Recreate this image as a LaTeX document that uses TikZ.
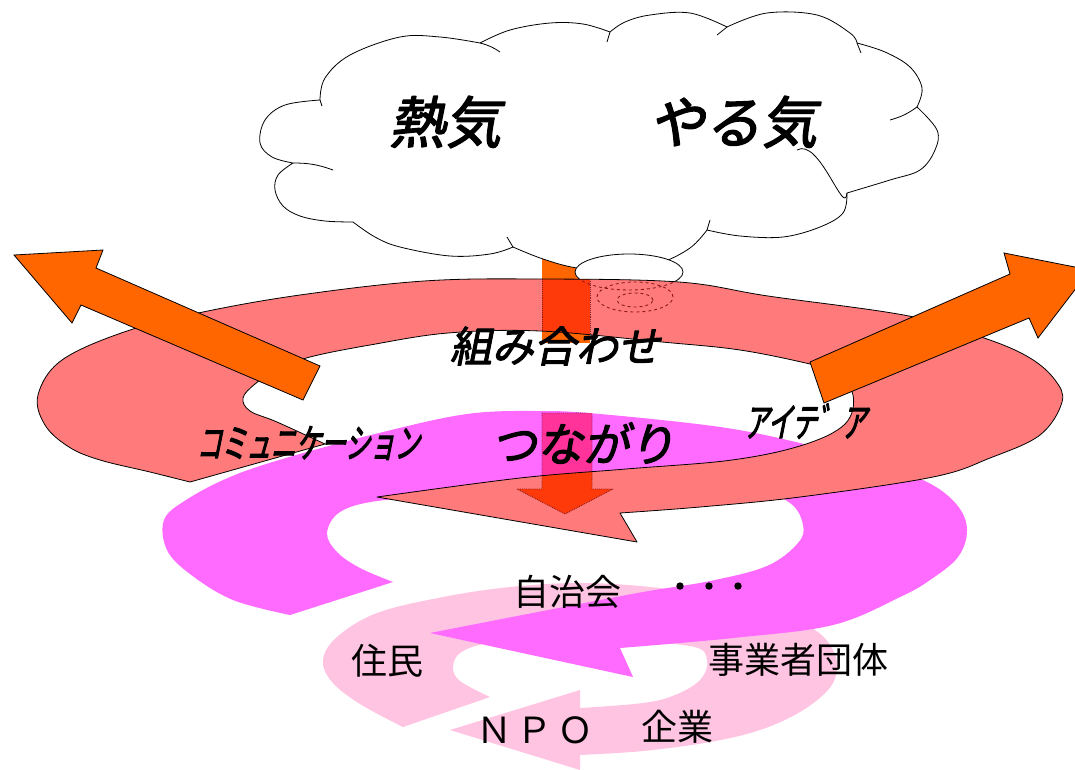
\documentclass[tikz,border=0pt]{standalone}
\usepackage{fontspec}
\newfontfamily\jpi{Noto Sans CJK JP}[FakeSlant=0.2,FakeBold=2.5]
\newfontfamily\jpic{Noto Sans CJK JP}[FakeSlant=0.2,FakeBold=2.5,FakeStretch=0.62]
\newfontfamily\jpr{Noto Sans CJK JP}
\newfontfamily\jprb{Noto Sans CJK JP}[FakeBold=4]
\definecolor{orng}{HTML}{FF6600}
\definecolor{redband}{HTML}{FF7B7B}
\definecolor{magband}{HTML}{FF6BFF}
\definecolor{pinkband}{HTML}{FFC4E2}
\definecolor{redover}{HTML}{FF3A0A}
\definecolor{magover}{HTML}{FF3399}
\definecolor{dotline}{HTML}{8C1A1A}

% outline paths of the three spiral bands and the overlapping shapes
\def\pathRed{(325,444) -- (190,482) -- plot[smooth,tension=0.6] coordinates {(190,482) (150,472) (100,460) (69,447) (45,425) (38,395) (62,360) (127,331) (203,312) (300,295) (424,281) (540,279) (679,282) (768,296) (909,316) (987,339) (1030,358) (1055,380) (1062,402) (1040,435) (990,458) (933,477) (800,497) (700,507) (620,513)} -- (637,542) -- (377,497) -- plot[smooth,tension=0.6] coordinates {(377,497) (520,478) (626,469) (732,460) (803,445) (845,424) (853,395) (835,372) (810,364) (740,350) (662,342) (540,331) (448,333) (370,345) (310,357) (278,369) (255,384) (243,398) (250,411) (277,422) (325,444)} -- cycle}
\def\pathMag{(393,582) -- (290,615) -- plot[smooth,tension=0.6] coordinates {(290,615) (233,600) (190,574) (167,550) (164,520) (186,500) (230,477) (286,458) (379,433) (467,414) (540,411) (600,414) (720,427) (800,443) (870,462) (927,482) (957,505) (967,530) (958,557) (930,580) (900,597) (833,625) (733,638) (620,648)} -- (633,677) -- (430,633) -- plot[smooth,tension=0.6] coordinates {(430,633) (543,611) (643,592) (710,581) (767,566) (798,543) (803,525) (790,503) (750,488) (650,482) (550,489) (450,496) (377,501) (340,512) (327,533) (337,552) (360,568) (393,582)} -- cycle}
\def\pathPink{(490,697) -- (403,727) -- plot[smooth,tension=0.6] coordinates {(403,727) (360,704) (332,682) (323,660) (337,637) (377,613) (443,597) (510,587) (577,583) (640,586) (700,594) (770,608) (815,630) (833,650) (837,670) (828,690) (800,712) (760,730) (710,742) (643,751) (580,755)} -- (580,770) -- (450,730) -- (580,690) -- plot[smooth,tension=0.6] coordinates {(580,708) (643,703) (675,695) (700,680) (707,660) (690,646) (600,640) (520,640) (483,644) (460,653) (453,667) (460,681) (490,697)} -- cycle}
\def\pathDown{(542,413) -- (592,413) -- (592,489) -- (613,489) -- (565,514) -- (517,489) -- (542,489) -- cycle}
\def\pathRect{(542,230) rectangle (590,343)}

\tikzset{
  outline/.style={draw=black,line width=0.8pt},
  bigarrow/.style={fill=orng,draw=black,line width=0.8pt,line join=miter},
  hidden/.style={draw=dotline,line width=0.9pt,densely dotted},
  slanted/.style={font=\jpi\fontsize{#1}{#1}\selectfont,inner sep=0pt},
  condensed/.style={font=\jpic\fontsize{#1}{#1}\selectfont,inner sep=0pt},
  plain/.style={font=\jpr\fontsize{#1}{#1}\selectfont,inner sep=0pt}
}

\begin{document}
\begin{tikzpicture}[x=1pt,y=-1pt,line join=round]
\useasboundingbox[fill=white] (0,0) rectangle (1075,769);

% orange block below the cloud
\fill[orng] \pathRect;

% thought cloud
\draw[outline,fill=white]
  plot[smooth,tension=0.6] coordinates {(293,163) (278,175) (275,190) (283,206) (300,216) (325,221) (353,222)}
  -- plot[smooth,tension=0.6] coordinates {(353,222) (375,237) (400,247) (450,256) (490,254) (513,247)}
  -- plot[smooth,tension=0.6] coordinates {(513,247) (543,259) (577,268) (620,271) (660,263) (690,248) (707,230)}
  -- plot[smooth,tension=0.6] coordinates {(707,230) (740,236) (783,237) (820,227) (843,213) (847,193)}
  -- plot[smooth,tension=0.6] coordinates {(847,193) (890,180) (920,170) (935,150) (937,130) (917,107)}
  -- plot[smooth,tension=0.6] coordinates {(917,107) (922,88) (910,67) (885,52) (857,43)}
  -- plot[smooth,tension=0.6] coordinates {(857,43) (850,33) (817,15) (767,13) (727,27)}
  -- plot[smooth,tension=0.6] coordinates {(727,27) (690,13) (650,15) (625,22) (610,32)}
  -- plot[smooth,tension=0.6] coordinates {(610,32) (583,24) (550,23) (510,30) (480,43)}
  -- plot[smooth,tension=0.6] coordinates {(480,43) (440,37) (400,37) (350,55) (325,78) (320,100)}
  -- plot[smooth,tension=0.6] coordinates {(320,100) (285,105) (265,120) (260,143) (272,157) (293,163)}
  -- cycle;
% small inner arcs of the cloud
\draw[outline] (480,43) to[bend left=10] (500,52);
\draw[outline] (610,32) -- (607,42);
\draw[outline] (727,27) -- (717,35);
\draw[outline] (857,43) -- (861,53);
\draw[outline] (917,107) to[bend left=10] (890,120);
\draw[outline] (847,193) to[out=-95,in=30] (797,150);
\draw[outline] (707,230) -- (710,220);
\draw[outline] (513,247) -- (507,237);
\draw[outline] (293,163) to[bend left=10] (333,170);
\draw[outline] (320,100) -- (322,106);

% trailing bubbles of the cloud
\draw[outline,fill=white] (629,272) ellipse [x radius=54pt, y radius=18pt];
\draw[outline,fill=white] (635,297) ellipse [x radius=38pt, y radius=15pt];
\draw[outline,fill=white] (635,300) ellipse [x radius=18pt, y radius=7pt];

% light pink spiral
\fill[pinkband] \pathPink;

% magenta spiral
\fill[magband] \pathMag;
\begin{scope}
  \clip \pathMag;
  \fill[magover] \pathDown;
  \draw[hidden,draw=magover!60!black] \pathDown;
\end{scope}

% red spiral with the shapes seen through it
\fill[redband] \pathRed;
\begin{scope}
  \clip \pathRed;
  \fill[redover] \pathRect;
  \draw[hidden] (542,230) -- (542,343) (590,230) -- (590,343);
  \fill[redover] \pathDown;
  \draw[hidden] \pathDown;
  \draw[hidden,dashed] (629,272) ellipse [x radius=54pt, y radius=18pt];
  \draw[hidden,dashed] (635,297) ellipse [x radius=38pt, y radius=15pt];
  \draw[hidden,dashed] (635,300) ellipse [x radius=18pt, y radius=7pt];
\end{scope}
\draw[outline] \pathRed;

% outward orange arrows
\draw[bigarrow] (14,255) -- (103,250) -- (96,268) -- (320,366) -- (303,400) -- (81,305) -- (72,323) -- cycle;
\draw[bigarrow] (810,362) -- (1010,274) -- (1004,253) -- (1090,270) -- (1038,338) -- (1029,318) -- (824,403) -- cycle;

% labels
\node[slanted=56] (netsu) at (445,122) {熱気};
\node[slanted=56] (yaruki) at (733,122) {やる気};
\node[slanted=42] (kumi) at (555,346) {組み合わせ};
\node[condensed=40] (komyu) at (308,443) {コミュニケーション};
\node[slanted=46] (tsuna) at (583,443) {つながり};
\node[condensed=40] (idea) at (805,421) {アイテ゛ア};
\node[plain=36] (jichi) at (567,592) {自治会};
\node[font=\jprb\fontsize{29}{29}\selectfont,inner sep=0pt] (dots) at (709,590) {・・・};
\node[plain=36] (jumin) at (387,661) {住民};
\node[plain=36] (jigyo) at (798,660) {事業者団体};
\node[plain=36] (npo) at (535,730) {Ｎ\hspace{5pt}Ｐ\hspace{5pt}Ｏ};
\node[plain=36] (kigyo) at (677,727) {企業};
\end{tikzpicture}
\end{document}
